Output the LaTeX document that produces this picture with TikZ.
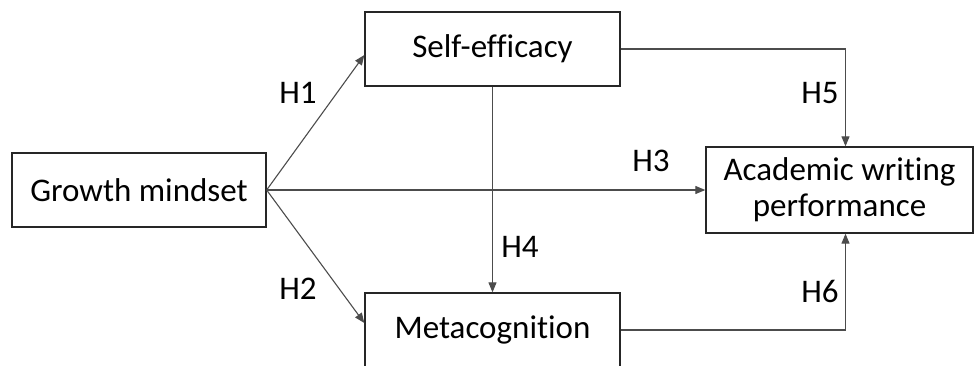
\documentclass[tikz,border=0pt]{standalone}
\usepackage{fontspec}
\setmainfont{Carlito}[Ligatures={NoCommon,NoContextual}]
\usepackage{tikz}
\usetikzlibrary{arrows.meta}
\definecolor{conn}{gray}{0.3}
\tikzset{
    box/.style={draw=black!85, line width=1.3pt, fill=white, align=center, inner sep=0pt},
    path/.style={draw=conn, line width=1.1pt, -{Triangle[length=10pt,width=8pt]}},
}

\begin{document}
\begin{tikzpicture}[x=1pt, y=-1pt, font=\fontsize{33}{36}\selectfont]
        \useasboundingbox (0,0) rectangle (975,365);
        \node[box, minimum width=254pt, minimum height=74pt] (gm) at (139,190) {Growth mindset};
        \node[box, minimum width=255pt, minimum height=74pt] (se) at (492.5,49) {Self-efficacy};
        \node[box, minimum width=255pt, minimum height=74pt] (mc) at (492.5,330) {Metacognition};
        \node[box, minimum width=267pt, minimum height=86pt] (aw) at (839.5,190) {Academic writing\\performance};
        \draw[path] (gm.east) -- ([yshift=-6pt]se.west);
        \draw[path] (gm.east) -- ([yshift=7pt]mc.west);
        \draw[path] (gm.east) -- (aw.west);
        \draw[path] (se.south) -- (mc.north);
        \draw[path] (se.east) -| ([xshift=6pt]aw.north);
        \draw[path] (mc.east) -| ([xshift=6pt]aw.south);
        \node (h1) at (298,93) {H1};
        \node (h2) at (298,289) {H2};
        \node (h3) at (651,161) {H3};
        \node (h4) at (520,247) {H4};
        \node (h5) at (820,93) {H5};
        \node (h6) at (820,291) {H6};
    \end{tikzpicture}
\end{document}
